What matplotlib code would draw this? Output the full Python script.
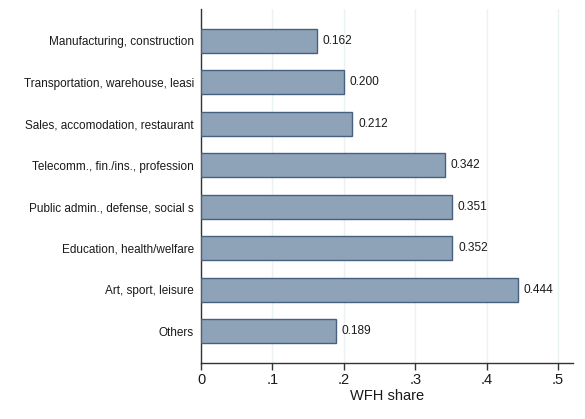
import matplotlib.pyplot as plt
import numpy as np

plt.rcParams['font.family'] = ['Liberation Sans', 'DejaVu Sans']

# WFH share by industry
industries = [
    "Manufacturing, construction",
    "Transportation, warehouse, leasi",
    "Sales, accomodation, restaurant",
    "Telecomm., fin./ins., profession",
    "Public admin., defense, social s",
    "Education, health/welfare",
    "Art, sport, leisure",
    "Others",
]
wfh_share = [0.162, 0.200, 0.212, 0.342, 0.351, 0.352, 0.444, 0.189]
xticks = [0, 0.1, 0.2, 0.3, 0.4, 0.5]
xtick_labels = ["0", ".1", ".2", ".3", ".4", ".5"]

fig = plt.figure(figsize=(5.85, 4.19), dpi=100)
ax = fig.add_axes([0.3436, 0.1337, 0.6359, 0.8448])

pos = np.arange(len(industries))
ax.barh(pos, wfh_share, height=0.58, color='#8ea3b7', edgecolor='#46617f',
        linewidth=1.0, zorder=3)

for p, v in zip(pos, wfh_share):
    ax.text(v + 0.008, p, f"{v:.3f}", va='center', ha='left', fontsize=8.6,
            color='#1a1a1a', zorder=4)

ax.set_ylim(len(industries) - 1 + 0.77, -0.77)
ax.set_xlim(0, 0.521)
ax.set_yticks(pos)
ax.set_yticklabels(industries, fontsize=8.5, color='#1a1a1a')
ax.tick_params(axis='y', length=0, pad=5)
ax.set_xticks(xticks)
ax.set_xticklabels(xtick_labels, fontsize=10.5, color='#1a1a1a')
ax.tick_params(axis='x', length=5, width=1, direction='out', pad=2,
               color='#333333')
ax.grid(axis='x', color='#eaf2f3', linewidth=1, zorder=0)
ax.set_xlabel("WFH share", fontsize=10.5, labelpad=2, color='#1a1a1a')

for s in ['top', 'right']:
    ax.spines[s].set_visible(False)
for s in ['left', 'bottom']:
    ax.spines[s].set_color('#333333')
    ax.spines[s].set_linewidth(1)

fig.savefig("out.png", dpi=100)
